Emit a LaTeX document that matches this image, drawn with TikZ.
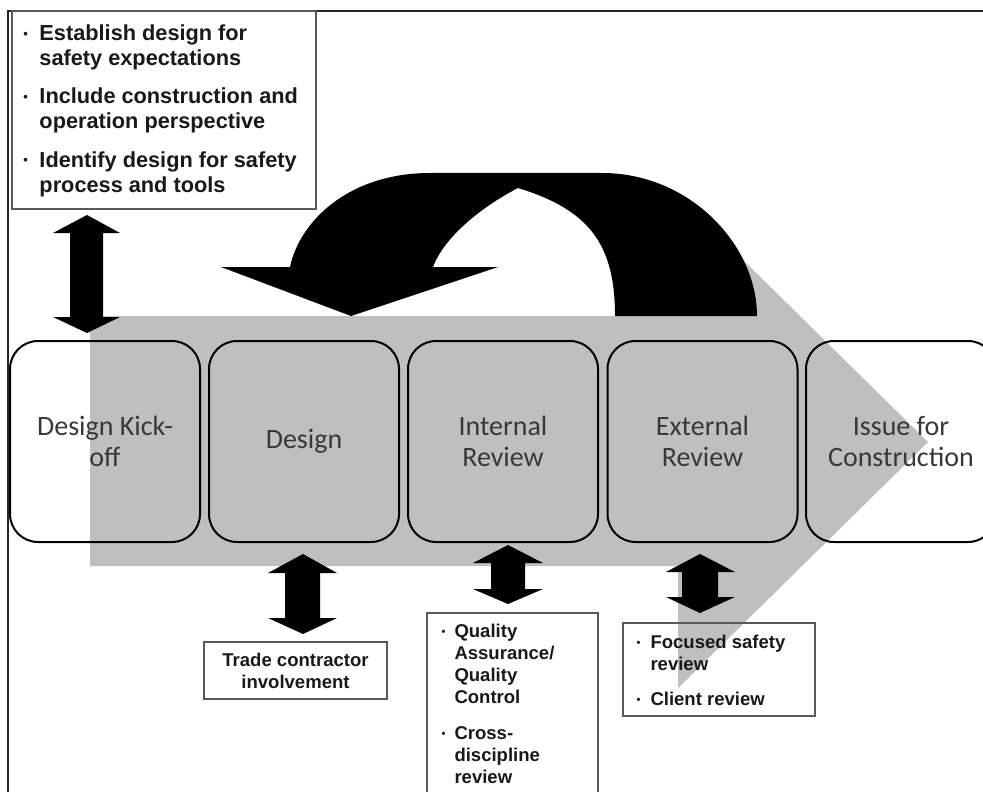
\documentclass[tikz,border=0pt]{standalone}
\usepackage{fontspec}
\usepackage{graphicx}
\setmainfont{Carlito}
\newfontfamily\notefamily{Liberation Sans}
\definecolor{flowgray}{RGB}{191,191,191}
\newcommand{\notebullet}{\raisebox{0.2ex}{\scalebox{0.6}{•}}}

\tikzset{every picture/.style={line width=0.75pt}}
\tikzset{
  stepbox/.style={draw=black, line width=1.5pt, rounded corners=21pt, minimum width=142.5pt, minimum height=150.75pt, inner sep=0pt, align=center, text=black!78, font=\fontsize{21}{23.25}\selectfont},
  notebox/.style={draw=black!65, line width=1pt, inner sep=0pt},
  notetext/.style={anchor=north west, inner sep=0pt, text=black!90},
  largenote/.style={font=\notefamily\bfseries\fontsize{16.3}{18.75}\selectfont},
  smallnote/.style={font=\notefamily\bfseries\fontsize{13.9}{16.5}\selectfont},
  blockarrow/.style={fill=black, draw=none},
}

\begin{document}
\begin{tikzpicture}[x=0.75pt,y=0.75pt,yscale=-1,xscale=1]
\clip (0,0) rectangle (983,792);

%Shape: Right Arrow [flow]
\fill [flowgray] (90,316) -- (678,316) -- (678,196) -- (928,442) -- (678,688) -- (678,566) -- (90,566) -- cycle ;
%Shape: U-Turn Arrow [feedback]
\fill [black] (757,316) .. controls (757,245) and (690,173) .. (602,173) -- (430,173) .. controls (350,173) and (300,220) .. (290,267) -- (221,267) -- (351,316) -- (498,267) -- (433,267) .. controls (445,235) and (485,205) .. (518,188) .. controls (590,210) and (615,245) .. (615,316) -- cycle ;

%Straight Lines [frame]
\draw [line width=1.5pt, black!85] (8,792) -- (8,11) -- (983,11) ;

%Rounded Rect [steps]
\draw (105,441.5) node [stepbox] (kickoff) {Design Kick-\\off};
\draw (304,441.5) node [stepbox] (design) {Design};
\draw (503,441.5) node [stepbox] (internal) {Internal\\Review};
\draw (702.5,441.5) node [stepbox] (external) {External\\Review};
\draw (901,441.5) node [stepbox] (issue) {Issue for\\Construction};

%Shape: Up Down Arrow [kickoff]
\fill [blockarrow] (87,215) -- (120,233) -- (103,233) -- (103,317) -- (120,317) -- (87,333) -- (53,317) -- (70,317) -- (70,233) -- (53,233) -- cycle ;
%Shape: Up Down Arrow [design]
\fill [blockarrow] (303,554) -- (337,573) -- (320,573) -- (320,618) -- (337,618) -- (303,634) -- (268,618) -- (285,618) -- (285,573) -- (268,573) -- cycle ;
%Shape: Up Down Arrow [internal]
\fill [blockarrow] (508,545) -- (543,563) -- (525,563) -- (525,589) -- (543,589) -- (508,604) -- (473,589) -- (491,589) -- (491,563) -- (473,563) -- cycle ;
%Shape: Up Down Arrow [external]
\fill [blockarrow] (700,554) -- (735,572) -- (718,572) -- (718,597) -- (735,597) -- (700,613) -- (666,597) -- (682,597) -- (682,572) -- (666,572) -- cycle ;

%Shape: Rectangle [notes]
\draw (164,110) node [notebox, minimum width=228pt, minimum height=148.5pt] (goalsbox) {};
\draw (295.5,670.5) node [notebox, smallnote, minimum width=137.25pt, minimum height=42.75pt, align=center, text=black!90] (trade) {Trade contractor\\involvement};
\draw (512.5,712.5) node [notebox, minimum width=128.25pt, minimum height=149.25pt] (qabox) {};
\draw (719,669.5) node [notebox, minimum width=144pt, minimum height=69.75pt] (clientbox) {};

% Text Node
\draw (23,22.5) node [notetext, largenote] (goals) {\begin{tabular}{@{}p{12pt}@{}l@{}}
\notebullet & Establish design for\\
 & safety expectations\\[10pt]
\notebullet & Include construction and\\
 & operation perspective\\[10pt]
\notebullet & Identify design for safety\\
 & process and tools
\end{tabular}};
% Text Node
\draw (441,621.6) node [notetext, smallnote] (qa) {\begin{tabular}{@{}p{9.75pt}@{}l@{}}
\notebullet & Quality\\
 & Assurance/\\
 & Quality\\
 & Control\\[10.5pt]
\notebullet & Cross-\\
 & discipline\\
 & review
\end{tabular}};
% Text Node
\draw (636,632.6) node [notetext, smallnote] (client) {\begin{tabular}{@{}p{10.5pt}@{}l@{}}
\notebullet & Focused safety\\
 & review\\[9.75pt]
\notebullet & Client review
\end{tabular}};

\end{tikzpicture}
\end{document}
